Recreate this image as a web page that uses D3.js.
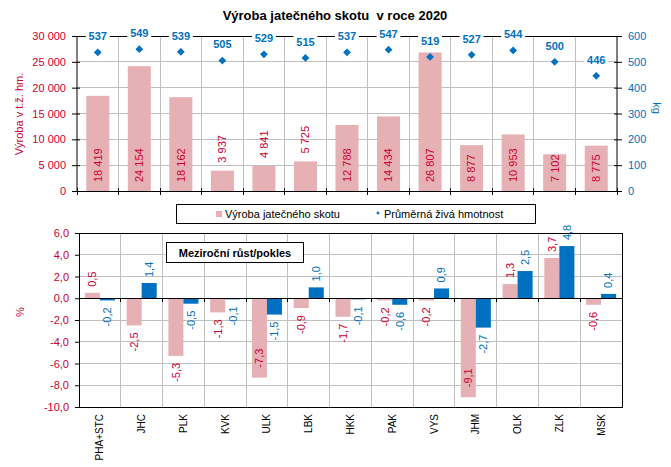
<!DOCTYPE html>
<html><head><meta charset="utf-8">
<script src="https://cdn.jsdelivr.net/npm/d3@7"></script>
<style>body{margin:0;background:#fff}svg{display:block}text{font-family:"Liberation Sans",Arial,sans-serif}</style>
</head><body>
<script>
const regions = ["PHA+STC","JHC","PLK","KVK","ULK","LBK","HKK","PAK","VYS","JHM","OLK","ZLK","MSK"];
const production = [18419,24154,18162,3937,4841,5725,12788,14434,26807,8877,10953,7102,8775];
const avgWeight = [537,549,539,505,529,515,537,547,519,527,544,500,446];
const productionGrowth = [0.5,-2.5,-5.3,-1.3,-7.3,-0.9,-1.7,-0.2,-0.2,-9.1,1.3,3.7,-0.6];
const weightGrowth = [-0.2,1.4,-0.5,-0.1,-1.5,1.0,-0.1,-0.6,0.9,-2.7,2.5,4.8,0.4];
const leftTicks = [0,5000,10000,15000,20000,25000,30000];
const rightTicks = [0,100,200,300,400,500,600];
const growthTicks = [-10,-8,-6,-4,-2,0,2,4,6];
const seriesNames = ["Výroba jatečného skotu","Průměrná živá hmotnost"];

const RED = "#cc0033", BLUE = "#0070c0", PINK = "#e6b1b4", GRID = "#bfbfbf";
const W = 671, H = 467;
const svg = d3.select("body").append("svg").attr("width", W).attr("height", H);

const fmtThousands = v => d3.format(",")(v).replace(/,/g, " ");
const fmtDec = v => d3.format(".1f")(v).replace(".", ",").replace("−","-");

// Title
svg.append("text").attr("x", 335).attr("y", 20).attr("text-anchor", "middle")
  .attr("font-size", 13).attr("font-weight", "bold").style("white-space","pre")
  .text("Výroba jatečného skotu  v roce 2020");

// ---------- TOP CHART ----------
const t = {l: 77, r: 617, t: 36, b: 191};
const x1 = d3.scaleBand().domain(regions).range([t.l, t.r]).paddingInner(0.445).paddingOuter(0.2225);
const step1 = x1.step();
const yL = d3.scaleLinear().domain([0, 30000]).range([t.b, t.t]);
const yR = d3.scaleLinear().domain([0, 600]).range([t.b, t.t]);

const g1 = svg.append("g");
g1.selectAll(".hg").data(leftTicks.slice(1, -1)).join("line")
  .attr("x1", t.l).attr("x2", t.r).attr("y1", d => yL(d)).attr("y2", d => yL(d))
  .attr("stroke", GRID).attr("stroke-width", 1).attr("shape-rendering","crispEdges");
g1.selectAll(".vg").data(d3.range(1, regions.length)).join("line")
  .attr("x1", i => t.l + i*step1).attr("x2", i => t.l + i*step1)
  .attr("y1", t.t).attr("y2", t.b).attr("stroke", GRID).attr("shape-rendering","crispEdges");
g1.selectAll(".bar").data(regions).join("rect")
  .attr("x", d => x1(d)).attr("width", x1.bandwidth())
  .attr("y", (d,i) => yL(production[i])).attr("height", (d,i) => t.b - yL(production[i]))
  .attr("fill", PINK);
g1.append("line").attr("x1", t.l).attr("x2", t.r).attr("y1", t.t).attr("y2", t.t)
  .attr("stroke", "#000").attr("shape-rendering","crispEdges");
const axL = g1.append("g").attr("transform", `translate(${t.l},0)`)
  .call(d3.axisLeft(yL).tickValues(leftTicks).tickSize(5).tickPadding(6).tickFormat(fmtThousands));
const axR = g1.append("g").attr("transform", `translate(${t.r},0)`)
  .call(d3.axisRight(yR).tickValues(rightTicks).tickSize(5).tickPadding(6));
[axL, axR].forEach(a => { a.select(".domain").attr("stroke","#000"); a.selectAll("line").attr("stroke","#000"); a.selectAll("text").attr("font-size", 11).attr("font-family",null); });
axL.selectAll("text").attr("fill", RED);
axR.selectAll("text").attr("fill", BLUE);
axL.selectAll(".tick line").attr("x2", -5).attr("x1", 3);
axR.selectAll(".tick line").attr("x1", -3).attr("x2", 5);
axL.select(".domain").attr("d", `M0,${t.t}V${t.b}`);
axR.select(".domain").attr("d", `M0,${t.t}V${t.b}`);
g1.append("line").attr("x1", t.l).attr("x2", t.r).attr("y1", t.b).attr("y2", t.b).attr("stroke","#000").attr("shape-rendering","crispEdges");
g1.selectAll(".bt").data(d3.range(regions.length + 1)).join("line")
  .attr("x1", i => t.l + i*step1).attr("x2", i => t.l + i*step1)
  .attr("y1", t.b - 3).attr("y2", t.b + 4).attr("stroke","#000").attr("shape-rendering","crispEdges");

g1.selectAll(".bl").data(regions).join("text")
  .attr("transform", (d,i) => {
    const h = t.b - yL(production[i]);
    const y0 = h < 33 ? yL(production[i]) - 8 : t.b - 9;
    return `translate(${x1(d) + x1.bandwidth()/2},${y0}) rotate(-90)`;
  })
  .attr("dy", "0.35em").attr("font-size", 11).attr("fill", RED)
  .text((d,i) => fmtThousands(production[i]));

const diamond = d3.symbol().type(d3.symbolSquare).size(30);
g1.selectAll(".dm").data(regions).join("path")
  .attr("d", diamond)
  .attr("transform", (d,i) => `translate(${x1(d) + x1.bandwidth()/2},${yR(avgWeight[i])}) rotate(45)`)
  .attr("fill", BLUE);
const dl = g1.selectAll(".dl").data(regions).join("g")
  .attr("transform", (d,i) => `translate(${x1(d) + x1.bandwidth()/2},${yR(avgWeight[i]) - 16})`);
dl.append("rect").attr("x", -12).attr("y", -7).attr("width", 24).attr("height", 14).attr("fill", "#fff");
dl.append("text").attr("text-anchor","middle").attr("dy","0.35em").attr("font-size", 11)
  .attr("font-weight","bold").attr("fill", BLUE).text((d,i) => avgWeight[i]);

svg.append("text").attr("transform", "translate(19,114) rotate(-90)").attr("text-anchor","middle")
  .attr("dy","0.35em").attr("font-size", 11).attr("fill", RED).text("Výroba v t.ž. hm.");
svg.append("text").attr("transform", "translate(657,108) rotate(90)").attr("text-anchor","middle")
  .attr("dy","0.35em").attr("font-size", 11).attr("fill", BLUE).text("kg");

// legend
const lg = svg.append("g");
lg.append("rect").attr("x", 176.5).attr("y", 204.5).attr("width", 359).attr("height", 19)
  .attr("fill","#fff").attr("stroke","#000");
lg.append("rect").attr("x", 216).attr("y", 211).attr("width", 6).attr("height", 6).attr("fill", PINK);
lg.append("text").attr("x", 225).attr("y", 214).attr("dy","0.35em").attr("font-size", 11).text(seriesNames[0]);
lg.append("path").attr("d", d3.symbol().type(d3.symbolSquare).size(6)).attr("transform","translate(378,213) rotate(45)").attr("fill", BLUE);
lg.append("text").attr("x", 384).attr("y", 214).attr("dy","0.35em").attr("font-size", 11).text(seriesNames[1]);

// ---------- BOTTOM CHART ----------
const b = {l: 79, r: 622, t: 233, b: 407};
const x2 = d3.scaleBand().domain(regions).range([b.l, b.r]).paddingInner(0.28).paddingOuter(0.14);
const step2 = x2.step();
const xs = d3.scaleBand().domain(["p","w"]).range([0, x2.bandwidth()]);
const y2 = d3.scaleLinear().domain([-10, 6]).range([b.b, b.t]);
const g2 = svg.append("g");

g2.selectAll(".hg").data(growthTicks.filter(v => v > -10 && v < 6 && v !== 0)).join("line")
  .attr("x1", b.l).attr("x2", b.r).attr("y1", d => y2(d)).attr("y2", d => y2(d))
  .attr("stroke", GRID).attr("shape-rendering","crispEdges");
g2.selectAll(".vg").data(d3.range(1, regions.length)).join("line")
  .attr("x1", i => b.l + i*step2).attr("x2", i => b.l + i*step2)
  .attr("y1", b.t).attr("y2", b.b).attr("stroke", GRID).attr("shape-rendering","crispEdges");

const series = [{key:"p", vals: productionGrowth, color: PINK, text: RED},
                {key:"w", vals: weightGrowth, color: BLUE, text: BLUE}];
series.forEach(s => {
  g2.selectAll(".bar-"+s.key).data(regions).join("rect")
    .attr("x", d => x2(d) + xs(s.key)).attr("width", xs.bandwidth())
    .attr("y", (d,i) => y2(Math.max(0, s.vals[i])))
    .attr("height", (d,i) => Math.abs(y2(s.vals[i]) - y2(0)))
    .attr("fill", s.color);
});
const inside = v => v < 0 && y2(v) + 27 > 400;
series.forEach(s => {
  g2.selectAll(".lab-"+s.key).data(regions).join("text")
    .attr("transform", (d,i) => {
      const v = s.vals[i];
      const cx = x2(d) + xs(s.key) + xs.bandwidth()/2;
      const ye = y2(v);
      if (v >= 0) return `translate(${cx},${ye - 6}) rotate(-90)`;
      if (inside(v)) return `translate(${cx},${ye - 10}) rotate(-90)`;
      return `translate(${cx},${ye + 7}) rotate(-90)`;
    })
    .attr("text-anchor", (d,i) => (s.vals[i] >= 0 || inside(s.vals[i])) ? "start" : "end")
    .attr("dy","0.35em").attr("font-size", 11).attr("fill", s.text)
    .text((d,i) => fmtDec(s.vals[i]));
});

g2.append("rect").attr("x", b.l).attr("y", b.t).attr("width", b.r - b.l).attr("height", b.b - b.t)
  .attr("fill","none").attr("stroke","#000").attr("shape-rendering","crispEdges");
g2.append("line").attr("x1", b.l).attr("x2", b.r).attr("y1", y2(0)).attr("y2", y2(0))
  .attr("stroke","#000").attr("shape-rendering","crispEdges");
g2.selectAll(".zt").data(d3.range(1, regions.length)).join("line")
  .attr("x1", i => b.l + i*step2).attr("x2", i => b.l + i*step2)
  .attr("y1", y2(0)).attr("y2", y2(0) + 4).attr("stroke","#000").attr("shape-rendering","crispEdges");
const axG = g2.append("g").attr("transform", `translate(${b.l},0)`)
  .call(d3.axisLeft(y2).tickValues(growthTicks).tickSize(4).tickPadding(6).tickFormat(fmtDec));
axG.select(".domain").remove();
axG.selectAll("line").attr("stroke","#000");
axG.selectAll("text").attr("font-size", 11).attr("font-family", null).attr("fill", RED);

g2.selectAll(".cl").data(regions).join("text")
  .attr("transform", d => `translate(${x2(d) + x2.bandwidth()/2},${b.b + 7}) rotate(-90)`)
  .attr("text-anchor","end").attr("dy","0.35em").attr("font-size", 10).attr("fill","#000")
  .text(d => d);

svg.append("rect").attr("x", 166.5).attr("y", 242.5).attr("width", 137).attr("height", 20)
  .attr("fill","#fff").attr("stroke","#000");
svg.append("text").attr("x", 235).attr("y", 253).attr("dy","0.35em").attr("text-anchor","middle")
  .attr("font-size", 11).attr("font-weight","bold").text("Meziroční růst/pokles");

svg.append("text").attr("transform", "translate(20,312) rotate(-90)").attr("text-anchor","middle")
  .attr("dy","0.35em").attr("font-size", 11).attr("fill", RED).text("%");
</script>
</body></html>
